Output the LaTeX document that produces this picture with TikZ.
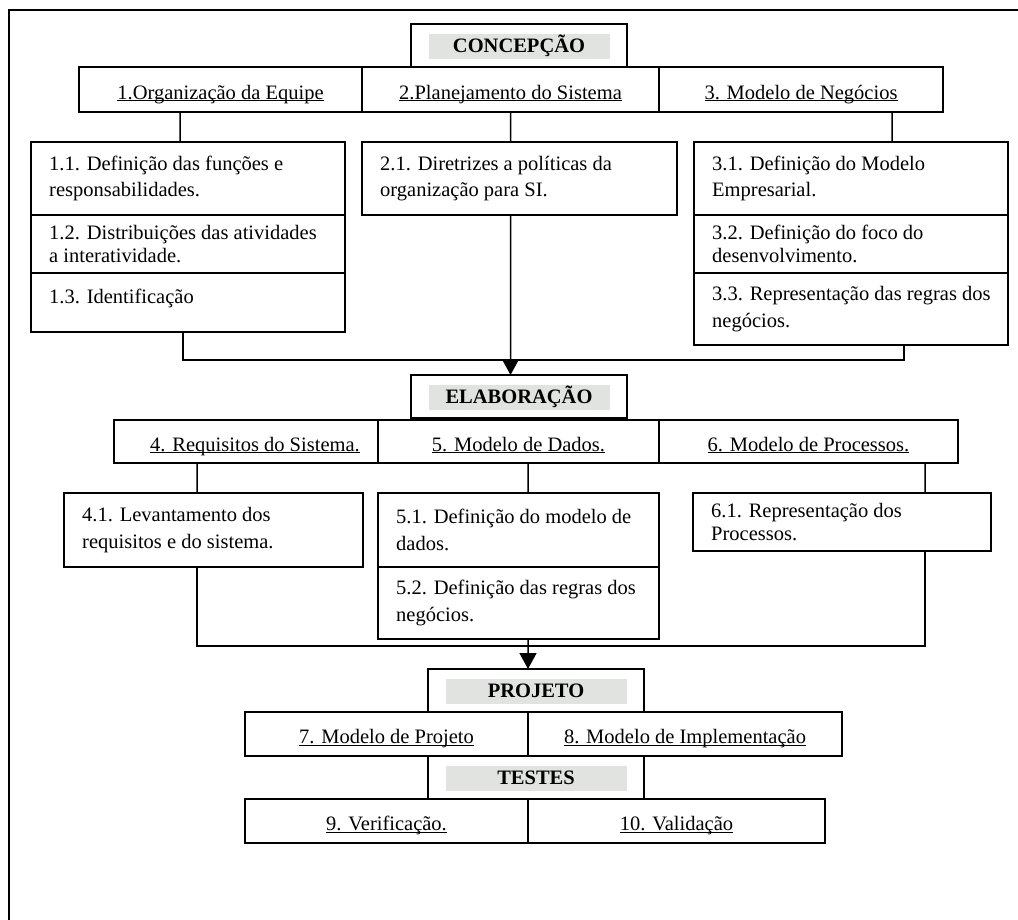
\documentclass[tikz,border=0pt]{standalone}
\usepackage{fontspec}
\setmainfont{Liberation Serif}
\usetikzlibrary{positioning,arrows.meta}

\definecolor{faixa}{RGB}{225,227,225}
\newcommand{\tam}{\fontsize{20.5bp}{26.5bp}\selectfont}
\newcommand{\sublinha}[1]{\underline{\smash{#1}}}

\begin{document}
\begin{tikzpicture}[x=1bp, y=-1bp, font=\tam, node distance=0pt]
\tikzset{
    fase/.style={rectangle, draw=black, line width=1.5bp, outer sep=0pt, anchor=north west, minimum width=216bp, minimum height=43bp, font=\tam\bfseries,
        path picture={\fill[faixa] ([xshift=18bp,yshift=-10bp]path picture bounding box.north west) rectangle ([xshift=-17bp,yshift=8.5bp]path picture bounding box.south east);}},
    cab/.style={rectangle, draw=black, line width=1.5bp, outer sep=0pt, text centered, text height=19bp, text depth=0bp},
    caixa/.style={rectangle, draw=black, line width=1.5bp, outer sep=0pt, inner sep=0pt,
        label={[anchor=west, xshift=18bp, inner sep=0pt, label distance=0pt, align=left]west:{#1}}},
    liga/.style={draw=black, line width=1.5bp},
    seta/.style={liga, -{Triangle[width=17bp,length=16bp]}}
}
\useasboundingbox (0,0) rectangle (1018,920);

% moldura
\draw[line width=2bp] (9,920) -- (9,10) -- (1018,10);

% concepcao
\node[fase] (concepcao) at (411,24) {CONCEPÇÃO};
\node[cab, minimum width=283bp, minimum height=45bp, anchor=north west] (org) at (79,67) {\sublinha{1.Organização da Equipe}};
\node[cab, minimum width=297bp, minimum height=45bp, right=of org] (plan) {\sublinha{2.Planejamento do Sistema}};
\node[cab, minimum width=284bp, minimum height=45bp, right=of plan] (neg) {\sublinha{3. Modelo de Negócios}};

\node[caixa={1.1. Definição das funções e\\responsabilidades.}, minimum width=314bp, minimum height=73bp, anchor=north west] (d11) at (31,142) {};
\node[caixa={1.2. Distribuições das atividades\\[-3.5bp]a interatividade.}, minimum width=314bp, minimum height=58bp, below=of d11] (d12) {};
\node[caixa={1.3. Identificação\\[-22bp]\strut}, minimum width=314bp, minimum height=59bp, below=of d12] (d13) {};
\node[caixa={2.1. Diretrizes a políticas da\\organização para SI.}, minimum width=315bp, minimum height=73bp, anchor=north west] (d21) at (362,142) {};
\node[caixa={3.1. Definição do Modelo\\Empresarial.}, minimum width=314bp, minimum height=73bp, anchor=north west] (d31) at (694,142) {};
\node[caixa={3.2. Definição do foco do\\[-3.5bp]desenvolvimento.}, minimum width=314bp, minimum height=58bp, below=of d31] (d32) {};
\node[caixa={3.3. Representação das regras dos\\negócios.}, minimum width=314bp, minimum height=72bp, below=of d32] (d33) {};

% elaboracao
\node[fase] (elaboracao) at (411,375) {ELABORAÇÃO};
\node[cab, minimum width=264bp, minimum height=43bp, anchor=north west] (req) at (114,420) {\hspace*{18bp}\sublinha{4. Requisitos do Sistema.}};
\node[cab, minimum width=281bp, minimum height=43bp, right=of req] (dados) {\sublinha{5. Modelo de Dados.}};
\node[cab, minimum width=299bp, minimum height=43bp, right=of dados] (proc) {\sublinha{6. Modelo de Processos.}};

\node[caixa={4.1. Levantamento dos\\requisitos e do sistema.}, minimum width=299bp, minimum height=74bp, anchor=north west] (d41) at (64,493) {};
\node[caixa={5.1. Definição do modelo de\\dados.}, minimum width=281bp, minimum height=74bp, anchor=north west] (d51) at (378,493) {};
\node[caixa={5.2. Definição das regras dos\\negócios.}, minimum width=281bp, minimum height=72bp, below=of d51] (d52) {};
\node[caixa={6.1. Representação dos\\[-3.5bp]Processos.}, minimum width=298bp, minimum height=58bp, anchor=north west] (d61) at (693,493) {};

% projeto e testes
\node[fase] (projeto) at (428,669) {PROJETO};
\node[cab, minimum width=283bp, minimum height=44bp, anchor=north west] (mproj) at (245,712) {\sublinha{7. Modelo de Projeto}};
\node[cab, minimum width=314bp, minimum height=44bp, right=of mproj] (mimpl) {\sublinha{8. Modelo de Implementação}};
\node[fase] (testes) at (428,756) {TESTES};
\node[cab, minimum width=283bp, minimum height=44bp, anchor=north west] (verif) at (245,799) {\sublinha{9. Verificação.}};
\node[cab, minimum width=297bp, minimum height=44bp, right=of verif] (valid) {\sublinha{10. Validação}};

% juncoes
\coordinate (j1) at (510.5,360);
\coordinate (j2) at (528,646);

% ligacoes
\draw[liga] ([xshift=-40.5bp]org.south) -- ([xshift=-8bp]d11.north);
\draw[liga] (plan.south) -- ([xshift=-9bp]d21.north);
\draw[liga] ([xshift=91bp]neg.south) -- ([xshift=41bp]d31.north);
\draw[liga] ([xshift=-5bp]d13.south) |- (j1);
\draw[liga] ([xshift=53bp]d33.south) |- (j1);
\draw[seta] ([xshift=-9bp]d21.south) -- ([xshift=-8.5bp]elaboracao.north);

\draw[liga] ([xshift=-49bp]req.south) -- ([xshift=-16.5bp]d41.north);
\draw[liga] ([xshift=9.5bp]dados.south) -- ([xshift=9.5bp]d51.north);
\draw[liga] ([xshift=116.5bp]proc.south) -- ([xshift=83bp]d61.north);
\draw[liga] ([xshift=-16.5bp]d41.south) |- (j2);
\draw[liga] ([xshift=83bp]d61.south) |- (j2);
\draw[seta] ([xshift=9.5bp]d52.south) -- ([xshift=-8bp]projeto.north);

\end{tikzpicture}
\end{document}
